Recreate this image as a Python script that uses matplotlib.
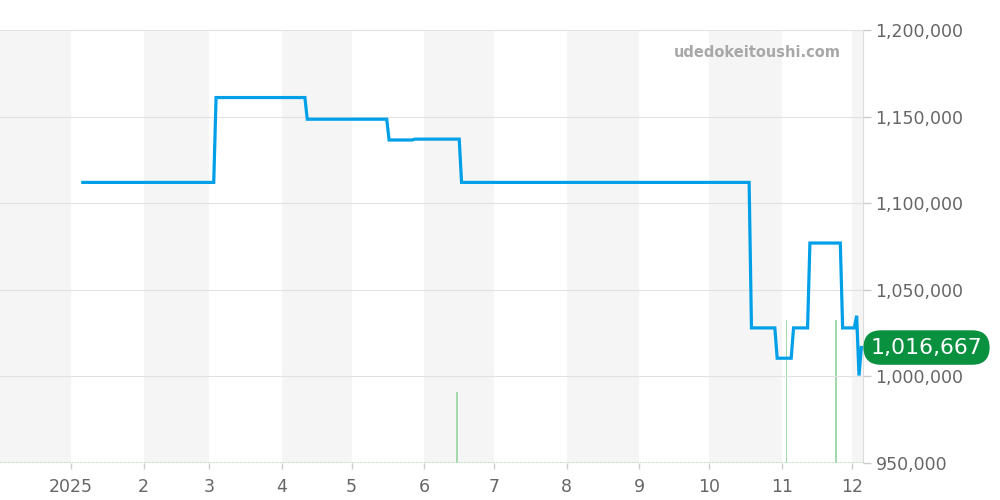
import matplotlib
matplotlib.use("Agg")
import matplotlib.pyplot as plt
import matplotlib.transforms as mtransforms
from datetime import datetime

# ---- data ----
price_dates = ["2025-01-06", "2025-03-03", "2025-03-04", "2025-04-11", "2025-04-12",
               "2025-05-16", "2025-05-17", "2025-05-27", "2025-05-28", "2025-06-16",
               "2025-06-17", "2025-10-18", "2025-10-19", "2025-10-29", "2025-10-30",
               "2025-11-05", "2025-11-06", "2025-11-12", "2025-11-13", "2025-11-26",
               "2025-11-27", "2025-12-02", "2025-12-03", "2025-12-04", "2025-12-05"]
price_values = [1112000, 1112000, 1161000, 1161000, 1148500,
                1148500, 1136500, 1136500, 1137000, 1137000,
                1112000, 1112000, 1028000, 1028000, 1010500,
                1010500, 1028000, 1028000, 1077000, 1077000,
                1028000, 1028000, 1035000, 1000500, 1016667]
volume_dates = ["2025-06-15", "2025-11-03", "2025-11-24"]
volume_values = [1, 2, 2]
month_ticks = ["2025-01-01", "2025-02-01", "2025-03-01", "2025-04-01", "2025-05-01",
               "2025-06-01", "2025-07-01", "2025-08-01", "2025-09-01", "2025-10-01",
               "2025-11-01", "2025-12-01"]
month_labels = ["2025", "2", "3", "4", "5", "6", "7", "8", "9", "10", "11", "12"]
shade_starts = ["2024-11-01", "2025-02-01", "2025-04-01", "2025-06-01", "2025-08-01",
                "2025-10-01", "2025-12-01"]
shade_ends = ["2025-01-01", "2025-03-01", "2025-05-01", "2025-07-01", "2025-09-01",
              "2025-11-01", "2026-01-01"]
y_ticks = [950000, 1000000, 1050000, 1100000, 1150000, 1200000]
last_label = "1,016,667"
watermark = "udedokeitoushi.com"

d = lambda s: datetime.strptime(s, "%Y-%m-%d")

fig = plt.figure(figsize=(10, 5), dpi=100)
ax = fig.add_axes([0.0, 0.074, 0.863, 0.866])
ax2 = ax.twinx()
ax.set_zorder(ax2.get_zorder() + 1)
ax.patch.set_visible(False)

xmin = datetime(2024, 12, 1, 14)
xmax = datetime(2025, 12, 5, 17)

# shaded month bands (on the back axis)
for s, e in zip(shade_starts, shade_ends):
    ax2.axvspan(d(s), d(e), color="#f5f5f5", lw=0, zorder=0)

# volume bars
ax2.bar([d(s) for s in volume_dates], volume_values, width=0.8, color="#a3d9ad", zorder=2)
ax2.axhline(0, color="#b5e0bd", lw=1.2, ls=(0, (1, 0.6)), zorder=2)
ax2.set_ylim(0, 6.06)
ax2.set_yticks([])
for sp in ax2.spines.values():
    sp.set_visible(False)

# price line
ax.plot([d(s) for s in price_dates], price_values, color="#00a0e9", lw=2.3,
        solid_joinstyle="miter", zorder=3)

ax.set_xlim(xmin, xmax)
ax2.set_xlim(xmin, xmax)
ax.set_ylim(950000, 1200000)
ax.set_yticks(y_ticks)
ax.set_yticklabels([f"{v:,}" for v in y_ticks])
ax.yaxis.tick_right()
ax.grid(axis="y", color="#e2e2e2", lw=0.8)
ax.set_axisbelow(True)
ax.set_xticks([d(s) for s in month_ticks])
ax.set_xticklabels(month_labels)
ax.tick_params(axis="y", colors="#cccccc", labelcolor="#666666", labelsize=12.5,
               length=6, width=1, pad=3)
ax.tick_params(axis="x", colors="#cccccc", labelcolor="#666666", labelsize=12.5,
               length=4, width=1, pad=6.5)
for k in ["top", "left", "bottom"]:
    ax.spines[k].set_visible(False)
ax.spines["right"].set_color("#dddddd")

# last value label
trans = mtransforms.blended_transform_factory(ax.transAxes, ax.transData)
ax.annotate(last_label, xy=(1.0, price_values[-1]), xycoords=trans,
            xytext=(5.5, 0), textcoords="offset points", ha="left", va="center",
            fontsize=15.8, color="white", annotation_clip=False,
            bbox=dict(boxstyle="round,pad=0.33,rounding_size=0.8", fc="#0a9140", ec="none"))

# watermark
ax.text(0.974, 0.947, watermark, transform=ax.transAxes, ha="right", va="center",
        fontsize=10.5, fontweight="bold", color="#a8a8a8")

fig.savefig("out.png", dpi=100)
